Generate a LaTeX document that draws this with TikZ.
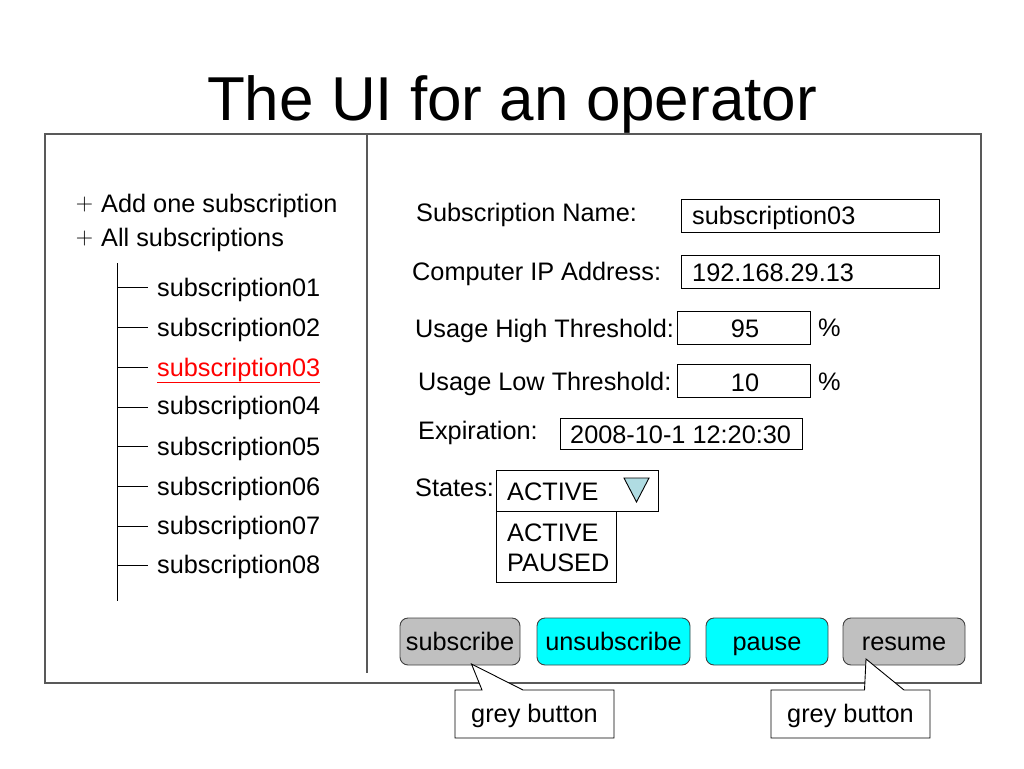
\documentclass[tikz,border=0pt]{standalone}
\usepackage{fontspec}
\setmainfont{Liberation Sans}
\newfontfamily\lmfont{Latin Modern Roman}
\definecolor{btncyan}{RGB}{0,255,255}
\definecolor{btngrey}{RGB}{192,192,192}
\definecolor{tricol}{RGB}{176,220,226}
\begin{document}
\begin{tikzpicture}[x=1pt,y=-1pt,
  txt/.style={inner sep=0pt,anchor=base west,font=\fontsize{25.3}{30}\selectfont},
  txtc/.style={inner sep=0pt,anchor=base,font=\fontsize{25.3}{30}\selectfont},
  field/.style={draw=black,line width=0.9pt,fill=white,inner sep=0pt},
  frameline/.style={draw=black!65,line width=1.6pt},
  treeline/.style={draw=black,line width=0.9pt},
  btn/.style={draw=black!75,line width=0.9pt,rounded corners=8pt,inner sep=0pt,
    minimum height=47pt,text height=18pt,text depth=0pt,font=\fontsize{25.3}{30}\selectfont},
  greybtn/.style={btn,fill=btngrey},
  cyanbtn/.style={btn,fill=btncyan},
  callout/.style={draw=black,line width=0.9pt,fill=white},
  plussign/.style={inner sep=0pt,anchor=base,font=\lmfont\fontsize{24}{30}\selectfont}
]
\useasboundingbox (0,0) rectangle (1024,768);
% title
\node[inner sep=0pt,anchor=base,font=\fontsize{62}{70}\selectfont] (title) at (512,120) {The UI for an operator};
% frame
\node[frameline,inner sep=0pt,minimum width=936pt,minimum height=549pt,anchor=north west] (frame) at (44,133) {};
\coordinate (divtop) at (367,133);
\coordinate (divbot) at (367,673);
\draw[frameline] (divtop) -- (divbot);
% left tree
\node[plussign] (plus1) at (84.5,210) {+};
\node[txt] (add) at (101,212) {Add one subscription};
\node[plussign] (plus2) at (84.5,244) {+};
\node[txt] (all) at (101,246) {All subscriptions};
\coordinate (trunktop) at (117,263);
\coordinate (trunkbot) at (117,601);
\draw[treeline] (trunktop) -- (trunkbot);
\foreach \i/\y in {1/287,2/327,3/367,4/407,5/446,6/486,7/526,8/565}{
  \coordinate (b\i a) at (117,\y);
  \coordinate (b\i b) at (148,\y);
  \draw[treeline] (b\i a) -- (b\i b);
}
\node[txt] (s1) at (157,296) {subscription01};
\node[txt] (s2) at (157,336) {subscription02};
\node[txt,text=red] (s3) at (157,376) {\underline{subscription03}};
\node[txt] (s4) at (157,414) {subscription04};
\node[txt] (s5) at (157,455) {subscription05};
\node[txt] (s6) at (157,495) {subscription06};
\node[txt] (s7) at (157,534) {subscription07};
\node[txt] (s8) at (157,573) {subscription08};
% right form
\node[txt] (lname) at (416,221) {Subscription Name:};
\node[field,minimum width=258pt,minimum height=33pt,anchor=north west] (fname) at (681,199) {};
\node[txt] (vname) at (692,224) {subscription03};
\node[txt] (lip) at (412,280) {Computer IP Address:};
\node[field,minimum width=258pt,minimum height=33pt,anchor=north west] (fip) at (681,255) {};
\node[txt] (vip) at (692,281) {192.168.29.13};
\node[txt] (lhigh) at (415,337) {Usage High Threshold:};
\node[field,minimum width=133pt,minimum height=33pt,anchor=north west] (fhigh) at (677,311) {};
\node[txtc] (vhigh) at (745,337) {95};
\node[txt] (phigh) at (818,336) {\%};
\node[txt] (llow) at (418,390) {Usage Low Threshold:};
\node[field,minimum width=133pt,minimum height=33pt,anchor=north west] (flow) at (677,364) {};
\node[txtc] (vlow) at (745,391) {10};
\node[txt] (plow) at (818,390) {\%};
\node[txt] (lexp) at (418,439) {Expiration:};
\node[field,minimum width=242pt,minimum height=31pt,anchor=north west] (fexp) at (560,418) {};
\node[txt] (vexp) at (570,443) {2008-10-1 12:20:30};
\node[txt] (lstates) at (415,496) {States:};
\node[field,minimum width=162pt,minimum height=41pt,anchor=north west] (combo) at (496,470) {};
\node[txt] (vcombo) at (507,500) {ACTIVE};
\coordinate (t1) at (624,478);
\coordinate (t2) at (649,478);
\coordinate (t3) at (636.5,502);
\draw[line width=0.9pt,fill=tricol] (t1) -- (t2) -- (t3) -- cycle;
\node[field,minimum width=120pt,minimum height=71pt,anchor=north west] (list) at (496,511) {};
\node[txt] (oactive) at (507,541) {ACTIVE};
\node[txt] (opaused) at (507,571) {PAUSED};
% buttons
\node[greybtn,minimum width=120pt] (bsub) at (460,641.5) {subscribe};
\node[cyanbtn,minimum width=153pt] (bunsub) at (613.5,641.5) {unsubscribe};
\node[cyanbtn,minimum width=122pt] (bpause) at (767,641.5) {pause};
\node[greybtn,minimum width=122pt] (bres) at (904,641.5) {resume};
% callouts
\coordinate (c1tip) at (471.5,664);
\coordinate (c2tip) at (866,659);
\draw[callout] (455,690) -- (482,690) -- (c1tip) -- (523,690) -- (614,690) -- (614,738) -- (455,738) -- cycle;
\draw[callout] (771,690) -- (864.5,690) -- (c2tip) -- (904,690) -- (930,690) -- (930,738) -- (771,738) -- cycle;
\node[txtc] (g1) at (534.5,722) {grey button};
\node[txtc] (g2) at (850.5,722) {grey button};
\end{tikzpicture}
\end{document}
